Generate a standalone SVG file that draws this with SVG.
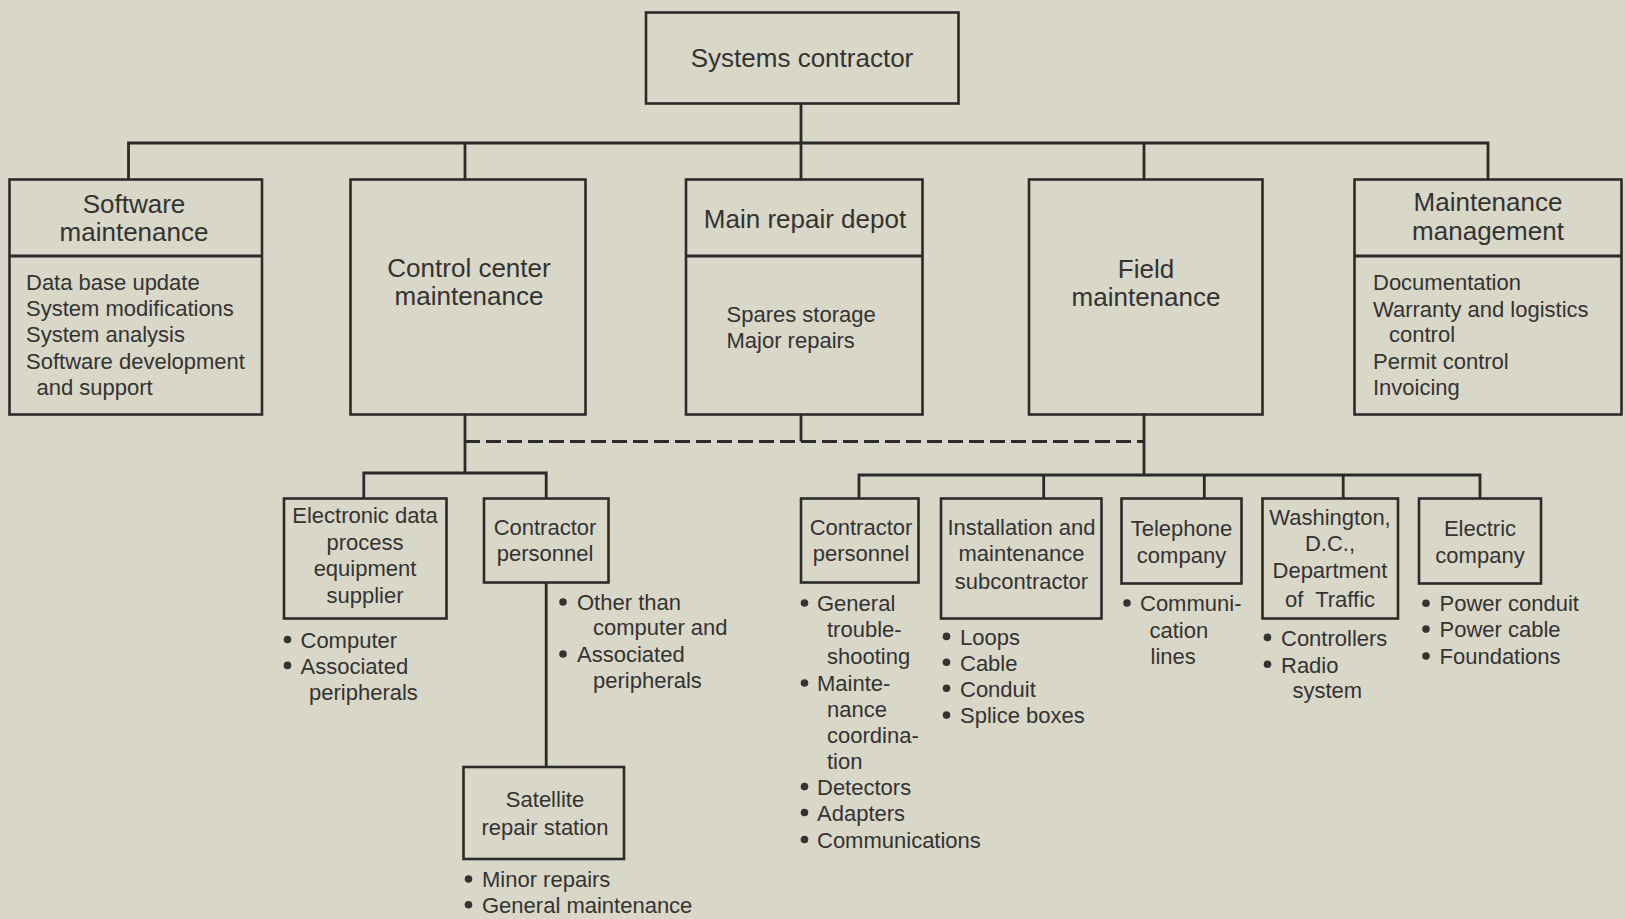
<svg xmlns="http://www.w3.org/2000/svg" width="1625" height="919" viewBox="0 0 1625 919">
<style>
.bg{fill:#d9d7c7}
.box{fill:none;stroke:#2b2b2b;stroke-width:2.6}
.ln{fill:none;stroke:#2b2b2b;stroke-width:2.8}
.dash{fill:none;stroke:#2b2b2b;stroke-width:3;stroke-dasharray:15,6}
text{font-family:"Liberation Sans",Arial,sans-serif;fill:#333}
.h{font-size:26px;text-anchor:middle}
.b{font-size:22px}
.c{font-size:22px;text-anchor:middle}
.dot{fill:#333}
</style>
<rect class="bg" x="0" y="0" width="1625" height="919"/>
<g id="connectors">
<path class="ln" d="M801,104V143M128.5,179V143H1488V179M465,143V179M801,143V179M1144,143V179"/>
<path class="ln" d="M465,415V473M363.8,498.5V473H546.2V498.5M546.2,583V767"/>
<path class="ln" d="M801,415V441.5M1144,415V475M859,498.5V475H1480V498.5M1043.7,475V498.5M1204.3,475V498.5M1343.2,475V498.5"/>
<path class="dash" d="M465,441.5H1144"/>
</g>
<g id="systems-contractor">
<rect class="box" x="646" y="12.5" width="312.5" height="91"/>
<text class="h" x="802" y="67">Systems contractor</text>
</g>
<g id="software-maintenance">
<rect class="box" x="9.5" y="179.5" width="252.5" height="235"/>
<line class="ln" x1="9.5" y1="256" x2="262" y2="256"/>
<text class="h" x="134" y="213">Software</text>
<text class="h" x="134" y="241">maintenance</text>
<text class="b" x="26" y="290">Data base update</text>
<text class="b" x="26" y="316">System modifications</text>
<text class="b" x="26" y="342">System analysis</text>
<text class="b" x="26" y="368.5">Software development</text>
<text class="b" x="36.5" y="394.5">and support</text>
</g>
<g id="control-center-maintenance">
<rect class="box" x="350.5" y="179.5" width="235" height="235"/>
<text class="h" x="469" y="276.5">Control center</text>
<text class="h" x="469" y="304.5">maintenance</text>
</g>
<g id="main-repair-depot">
<rect class="box" x="686" y="179.5" width="236.5" height="235"/>
<line class="ln" x1="686" y1="256" x2="922.5" y2="256"/>
<text class="h" x="805" y="227.5">Main repair depot</text>
<text class="b" x="726.5" y="322">Spares storage</text>
<text class="b" x="726.5" y="348">Major repairs</text>
</g>
<g id="field-maintenance">
<rect class="box" x="1029" y="179.5" width="233.5" height="235"/>
<text class="h" x="1146" y="277.5">Field</text>
<text class="h" x="1146" y="305.5">maintenance</text>
</g>
<g id="maintenance-management">
<rect class="box" x="1354.5" y="179.5" width="267" height="235"/>
<line class="ln" x1="1354.5" y1="256" x2="1621.5" y2="256"/>
<text class="h" x="1488" y="211">Maintenance</text>
<text class="h" x="1488" y="240">management</text>
<text class="b" x="1373" y="290">Documentation</text>
<text class="b" x="1373" y="317">Warranty and logistics</text>
<text class="b" x="1389" y="342">control</text>
<text class="b" x="1373" y="369">Permit control</text>
<text class="b" x="1373" y="394.5">Invoicing</text>
</g>
<g id="edp-supplier">
<rect class="box" x="284" y="498.5" width="162.5" height="120"/>
<text class="c" x="365" y="523">Electronic data</text>
<text class="c" x="365" y="550">process</text>
<text class="c" x="365" y="576">equipment</text>
<text class="c" x="365" y="603">supplier</text>
<circle class="dot" cx="287.5" cy="639.5" r="3.8"/>
<text class="b" x="300.5" y="647.5">Computer</text>
<circle class="dot" cx="287.5" cy="665.4" r="3.8"/>
<text class="b" x="300.5" y="673.5">Associated</text>
<text class="b" x="309" y="699.5">peripherals</text>
</g>
<g id="contractor-personnel-cc">
<rect class="box" x="484" y="498.5" width="124.5" height="84"/>
<text class="c" x="545" y="534.5">Contractor</text>
<text class="c" x="545" y="560.5">personnel</text>
<circle class="dot" cx="563" cy="602" r="3.8"/>
<text class="b" x="577" y="610">Other than</text>
<text class="b" x="593" y="635">computer and</text>
<circle class="dot" cx="563" cy="654" r="3.8"/>
<text class="b" x="577" y="662">Associated</text>
<text class="b" x="593" y="688">peripherals</text>
</g>
<g id="satellite-repair-station">
<rect class="box" x="463.5" y="767" width="160.5" height="92"/>
<text class="c" x="545" y="807">Satellite</text>
<text class="c" x="545" y="835">repair station</text>
<circle class="dot" cx="468.5" cy="879" r="3.8"/>
<text class="b" x="482" y="887">Minor repairs</text>
<circle class="dot" cx="468.5" cy="904.8" r="3.8"/>
<text class="b" x="482" y="913">General maintenance</text>
</g>
<g id="contractor-personnel-field">
<rect class="box" x="801" y="498.5" width="117.5" height="84"/>
<text class="c" x="861" y="534.5">Contractor</text>
<text class="c" x="861" y="560.5">personnel</text>
<circle class="dot" cx="804.5" cy="603" r="3.8"/>
<text class="b" x="817" y="611">General</text>
<text class="b" x="827" y="637">trouble-</text>
<text class="b" x="827" y="664">shooting</text>
<circle class="dot" cx="804.5" cy="683" r="3.8"/>
<text class="b" x="817" y="691">Mainte-</text>
<text class="b" x="827" y="717">nance</text>
<text class="b" x="827" y="743">coordina-</text>
<text class="b" x="827" y="769">tion</text>
<circle class="dot" cx="804.5" cy="786.6" r="3.8"/>
<text class="b" x="817" y="794.5">Detectors</text>
<circle class="dot" cx="804.5" cy="812.5" r="3.8"/>
<text class="b" x="817" y="820.5">Adapters</text>
<circle class="dot" cx="804.5" cy="839.5" r="3.8"/>
<text class="b" x="817" y="847.5">Communications</text>
</g>
<g id="installation-subcontractor">
<rect class="box" x="941" y="498.5" width="160.5" height="120"/>
<text class="c" x="1021.5" y="534.5">Installation and</text>
<text class="c" x="1021.5" y="560.5">maintenance</text>
<text class="c" x="1021.5" y="588.5">subcontractor</text>
<circle class="dot" cx="946.5" cy="636.4" r="3.8"/>
<text class="b" x="960" y="644.5">Loops</text>
<circle class="dot" cx="946.5" cy="662.3" r="3.8"/>
<text class="b" x="960" y="670.5">Cable</text>
<circle class="dot" cx="946.5" cy="688.2" r="3.8"/>
<text class="b" x="960" y="696.5">Conduit</text>
<circle class="dot" cx="946.5" cy="715.1" r="3.8"/>
<text class="b" x="960" y="723">Splice boxes</text>
</g>
<g id="telephone-company">
<rect class="box" x="1121.5" y="498.5" width="120" height="85"/>
<text class="c" x="1181.5" y="535.5">Telephone</text>
<text class="c" x="1181.5" y="562.5">company</text>
<circle class="dot" cx="1127" cy="603" r="3.8"/>
<text class="b" x="1140" y="611">Communi-</text>
<text class="b" x="1149.5" y="638">cation</text>
<text class="b" x="1150.5" y="664">lines</text>
</g>
<g id="dc-department-of-traffic">
<rect class="box" x="1262.5" y="498.5" width="135.5" height="120"/>
<text class="c" x="1330" y="525">Washington,</text>
<text class="c" x="1330" y="551">D.C.,</text>
<text class="c" x="1330" y="578">Department</text>
<text class="c" x="1330" y="607" xml:space="preserve">of  Traffic</text>
<circle class="dot" cx="1267.5" cy="637.4" r="3.8"/>
<text class="b" x="1281" y="645.5">Controllers</text>
<circle class="dot" cx="1267.5" cy="664.3" r="3.8"/>
<text class="b" x="1281" y="672.5">Radio</text>
<text class="b" x="1292.5" y="698">system</text>
</g>
<g id="electric-company">
<rect class="box" x="1419" y="498.5" width="122" height="85"/>
<text class="c" x="1480" y="535.5">Electric</text>
<text class="c" x="1480" y="562.5">company</text>
<circle class="dot" cx="1426" cy="603.2" r="3.8"/>
<text class="b" x="1439.5" y="611">Power conduit</text>
<circle class="dot" cx="1426" cy="629.1" r="3.8"/>
<text class="b" x="1439.5" y="637">Power cable</text>
<circle class="dot" cx="1426" cy="656" r="3.8"/>
<text class="b" x="1439.5" y="664">Foundations</text>
</g>
</svg>
